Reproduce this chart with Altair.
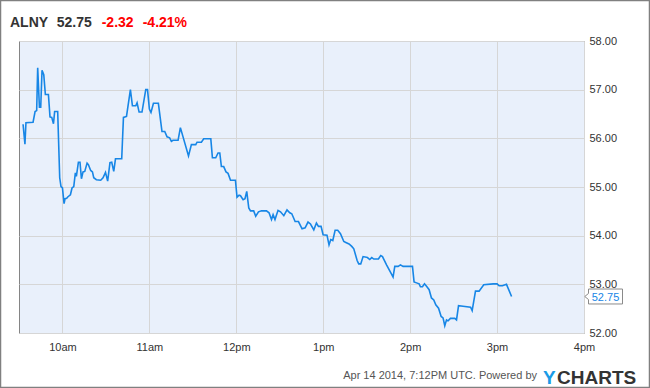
import altair as alt
import pandas as pd

# ---- data ----
ticker = "ALNY"
last_price = "52.75"
change = "-2.32"
change_pct = "-4.21%"
footer_note = "Apr 14 2014, 7:12PM UTC.  Powered by"

# minutes after 9:30am
minutes = [2.8, 4.1, 4.8, 9.7, 11.1, 12.2, 12.9, 14.1, 15.0, 15.9,
           17.1, 18.2, 20.3, 21.4, 22.6, 23.8, 24.6, 26.7, 28.1, 29.0,
           30.0, 31.1, 31.8, 32.9, 33.8, 35.5, 36.6, 37.8, 38.9, 39.6,
           41.0, 42.1, 43.1, 44.2, 45.4, 47.0, 47.9, 49.5, 50.7, 51.6,
           53.4, 56.4, 58.0, 59.7, 61.2, 62.8, 64.0, 65.4, 66.6, 70.9,
           72.1, 74.2, 76.9, 78.3, 80.6, 81.5, 82.9, 84.9, 87.5, 88.7,
           90.0, 91.1, 92.8, 96.2, 98.7, 100.6, 102.2, 104.0, 105.2, 106.3,
           109.8, 111.4, 117.0, 119.0, 122.0, 122.9, 125.9, 127.5, 132.4, 133.5,
           135.8, 137.4, 138.6, 139.7, 141.3, 142.9, 144.3, 146.0, 149.4, 150.5,
           151.9, 152.9, 154.7, 156.0, 157.2, 158.6, 159.8, 162.0, 163.4, 165.3,
           167.4, 170.8, 172.6, 174.3, 175.4, 176.7, 178.8, 180.5, 182.8, 185.0,
           186.9, 188.3, 190.6, 192.9, 195.4, 197.5, 199.5, 201.2, 203.5, 205.3,
           206.7, 208.5, 209.9, 212.6, 214.0, 215.2, 216.6, 218.2, 220.0, 221.9,
           224.2, 225.6, 227.8, 229.7, 231.1, 233.4, 234.5, 235.9, 237.5, 240.5,
           242.1, 243.5, 244.9, 248.1, 249.7, 250.9, 253.7, 256.4, 258.2, 259.4,
           261.7, 263.3, 265.1, 271.6, 272.7, 274.4, 276.2, 277.1, 278.5, 279.9,
           281.3, 283.1, 284.7, 286.3, 287.7, 289.6, 291.4, 292.7, 293.9, 295.1,
           296.2, 297.8, 300.8, 302.0, 303.4, 306.5, 311.7, 312.8, 315.1, 317.6,
           320.8, 327.3, 330.0, 331.4, 333.7, 336.5, 340.0]

prices = [56.29, 55.88, 56.32, 56.33, 56.55, 56.57, 57.45, 56.64, 56.64, 57.40,
          57.31, 56.90, 56.90, 56.44, 56.43, 56.30, 56.55, 56.55, 55.19, 55.01,
          54.98, 54.66, 54.76, 54.77, 54.80, 54.84, 54.98, 55.01, 55.29, 55.22,
          55.51, 55.51, 55.17, 55.31, 55.32, 55.49, 55.46, 55.34, 55.31, 55.19,
          55.15, 55.14, 55.19, 55.30, 55.12, 55.50, 55.51, 55.32, 55.58, 55.58,
          56.43, 56.45, 57.00, 56.67, 56.67, 56.73, 56.54, 56.54, 57.00, 57.00,
          56.60, 56.53, 56.72, 56.72, 56.14, 56.14, 56.03, 56.01, 55.94, 55.96,
          55.96, 56.22, 55.64, 55.87, 55.87, 55.92, 55.92, 55.99, 55.99, 55.60,
          55.60, 55.70, 55.70, 55.42, 55.42, 55.31, 55.28, 55.14, 55.14, 54.79,
          54.83, 54.82, 54.74, 54.76, 54.91, 54.57, 54.51, 54.51, 54.40, 54.49,
          54.51, 54.51, 54.47, 54.33, 54.43, 54.33, 54.52, 54.49, 54.41, 54.53,
          54.47, 54.45, 54.29, 54.29, 54.14, 54.16, 54.28, 54.24, 54.12, 54.26,
          54.19, 54.19, 54.02, 54.01, 53.81, 53.92, 53.90, 54.11, 54.11, 54.04,
          53.88, 53.86, 53.83, 53.78, 53.73, 53.49, 53.42, 53.42, 53.57, 53.55,
          53.51, 53.55, 53.52, 53.52, 53.59, 53.57, 53.40, 53.25, 53.15, 53.37,
          53.37, 53.40, 53.37, 53.37, 53.05, 53.03, 53.01, 52.95, 52.95, 53.01,
          52.96, 52.89, 52.72, 52.68, 52.58, 52.51, 52.34, 52.31, 52.15, 52.27,
          52.25, 52.30, 52.30, 52.27, 52.56, 52.55, 52.53, 52.46, 52.86, 52.86,
          52.99, 53.01, 53.01, 52.97, 52.97, 53.00, 52.75]

hour_ticks = [10, 11, 12, 13, 14, 15, 16]
price_ticks = [52, 53, 54, 55, 56, 57, 58]

df = pd.DataFrame({"hour": [9.5 + m / 60 for m in minutes], "price": prices})
last_df = pd.DataFrame({"price": [prices[-1]]})
one = pd.DataFrame({"k": [0]})

W, H = 565, 292
FONT = "Liberation Sans"
BLUE = "#1786e6"

xscale = alt.Scale(domain=[9.5, 16], nice=False, zero=False)
yscale = alt.Scale(domain=[52, 58], nice=False, zero=False)

label_expr = ("datum.value < 12 ? datum.value + 'am' : "
              "(datum.value == 12 ? '12pm' : (datum.value - 12) + 'pm')")

line = alt.Chart(df).mark_line(color=BLUE, strokeWidth=1.6).encode(
    x=alt.X("hour:Q", scale=xscale,
            axis=alt.Axis(values=hour_ticks, labelExpr=label_expr, title=None,
                          ticks=False, domain=False, labelPadding=8,
                          labelFlush=False, labelFontSize=11, labelColor="#333",
                          labelFont=FONT, gridColor="#d6d6d6")),
    y=alt.Y("price:Q", scale=yscale,
            axis=alt.Axis(orient="right", values=price_ticks, format=".2f",
                          title=None, ticks=False, domain=False, labelPadding=5,
                          labelFontSize=11, labelColor="#333", labelFont=FONT,
                          gridColor="#d6d6d6")),
)

tag_shape = "M -1 -0.44 L 1 -0.44 L 1 0.44 L -1 0.44 L -1 0.18 L -1.22 0 L -1 -0.18 Z"
tag_box = alt.Chart(last_df).mark_point(
    shape=tag_shape, size=34 * 34, filled=True, fill="white",
    stroke="#8a8a8a", strokeWidth=1, opacity=1,
).encode(x=alt.value(W + 21.5), y=alt.Y("price:Q", scale=yscale))

tag_text = alt.Chart(last_df).mark_text(
    font=FONT, fontSize=11, color=BLUE, align="center", baseline="middle", dy=1
).encode(x=alt.value(W + 21.5), y=alt.Y("price:Q", scale=yscale),
         text=alt.Text("price:Q", format=".2f"))

def txt(s, x, y, color, size, bold=True, align="left"):
    return alt.Chart(one).mark_text(
        text=s, font=FONT, fontSize=size, fontWeight="bold" if bold else "normal",
        color=color, align=align, baseline="alphabetic",
    ).encode(x=alt.value(x), y=alt.value(y))

title_layers = [
    txt(ticker, -9, -14.5, "#333333", 14),
    txt(last_price, 37.7, -14.5, "#333333", 14),
    txt(change, 82.7, -14.5, "#ff0000", 14),
    txt(change_pct, 123.7, -14.5, "#ff0000", 14),
]

footer_layers = [
    txt(footer_note, 518, 338, "#555555", 11, bold=False, align="right"),
    txt("Y", 524, 342.5, "#1a9be6", 19),
    txt("CHARTS", 538, 342.5, "#333333", 19),
]

frame = alt.Chart(one).mark_rect(fill=None, stroke="#808080", strokeWidth=2.5).encode(
    x=alt.value(-19), x2=alt.value(631), y=alt.value(-41), y2=alt.value(347)
)

chart = alt.layer(
    line, tag_box, tag_text, *title_layers, *footer_layers, frame
).properties(
    width=W, height=H,
    autosize=alt.AutoSizeParams(type="none"),
    padding={"left": 19, "top": 41, "right": 66, "bottom": 55},
    background="white",
).configure_view(
    fill="#e9f0fb", stroke="#858585", strokeWidth=1
)

chart.save("out.html", embed_options={"renderer": "svg", "actions": False})
